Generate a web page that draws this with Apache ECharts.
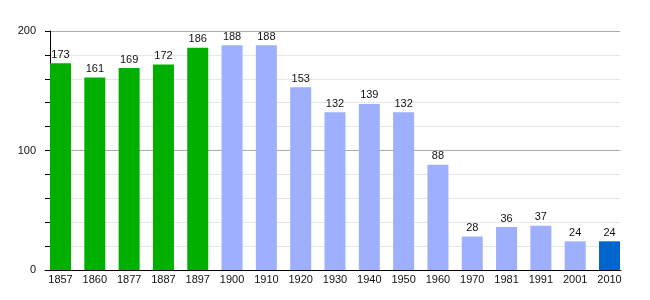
<!DOCTYPE html>
<html><head><meta charset="utf-8">
<script src="https://cdn.jsdelivr.net/npm/echarts@6/dist/echarts.min.js"></script>
<style>html,body{margin:0;padding:0;background:#fff}#c{width:650px;height:300px}</style>
</head><body><div id="c"></div>
<script>
const years = ['1857','1860','1877','1887','1897','1900','1910','1920','1930','1940','1950','1960','1970','1981','1991','2001','2010'];
const population = [173,161,169,172,186,188,188,153,132,139,132,88,28,36,37,24,24];
const yTickLabels = ['0','100','200'];

const FONT = '"Liberation Sans", Arial, sans-serif';
function barColor(i){
  if (i < 5) return '#00af00';
  if (i === years.length - 1) return '#0066cc';
  return '#9daffd';
}
const chart = echarts.init(document.getElementById('c'), null, {renderer:'canvas'});
chart.setOption({
  animation:false,
  grid:[
    {left:50, right:30, top:31, bottom:30},
    {left:43.35, right:23.35, top:31, bottom:30},
    {left:45, right:29, top:31, bottom:30}
  ],
  xAxis:[
    {gridIndex:0, type:'category', data:years, show:false},
    {gridIndex:1, type:'category', data:years,
      axisLine:{show:false}, axisTick:{show:false},
      axisLabel:{color:'#111', fontFamily:FONT, fontSize:11, margin:4, interval:0}},
    {gridIndex:2, type:'value', min:0, max:1,
      axisLine:{show:true, lineStyle:{color:'#000', width:1}},
      axisTick:{show:false}, axisLabel:{show:false}, splitLine:{show:false}}
  ],
  yAxis:[
    {gridIndex:0, type:'value', min:0, max:200, interval:20,
      axisLine:{show:true, lineStyle:{color:'#000', width:1}},
      axisTick:{show:true, length:5, lineStyle:{color:'#000'}},
      axisLabel:{color:'#111', fontFamily:FONT, fontSize:11, margin:14,
        formatter:v => yTickLabels.includes(String(v)) ? String(v) : ''},
      splitLine:{show:true, lineStyle:{color:['#aaaaaa','#e6e6e6','#e6e6e6','#e6e6e6','#e6e6e6'], width:1}}},
    {gridIndex:1, type:'value', min:0, max:200, show:false},
    {gridIndex:2, type:'value', min:0, max:200, show:false}
  ],
  series:[{
    type:'bar', xAxisIndex:1, yAxisIndex:1,
    data: population.map((v,i)=>({value:v, itemStyle:{color:barColor(i)}})),
    barWidth:21,
    label:{show:true, position:'top', distance:3, color:'#111', fontFamily:FONT, fontSize:11}
  }]
});
</script></body></html>
